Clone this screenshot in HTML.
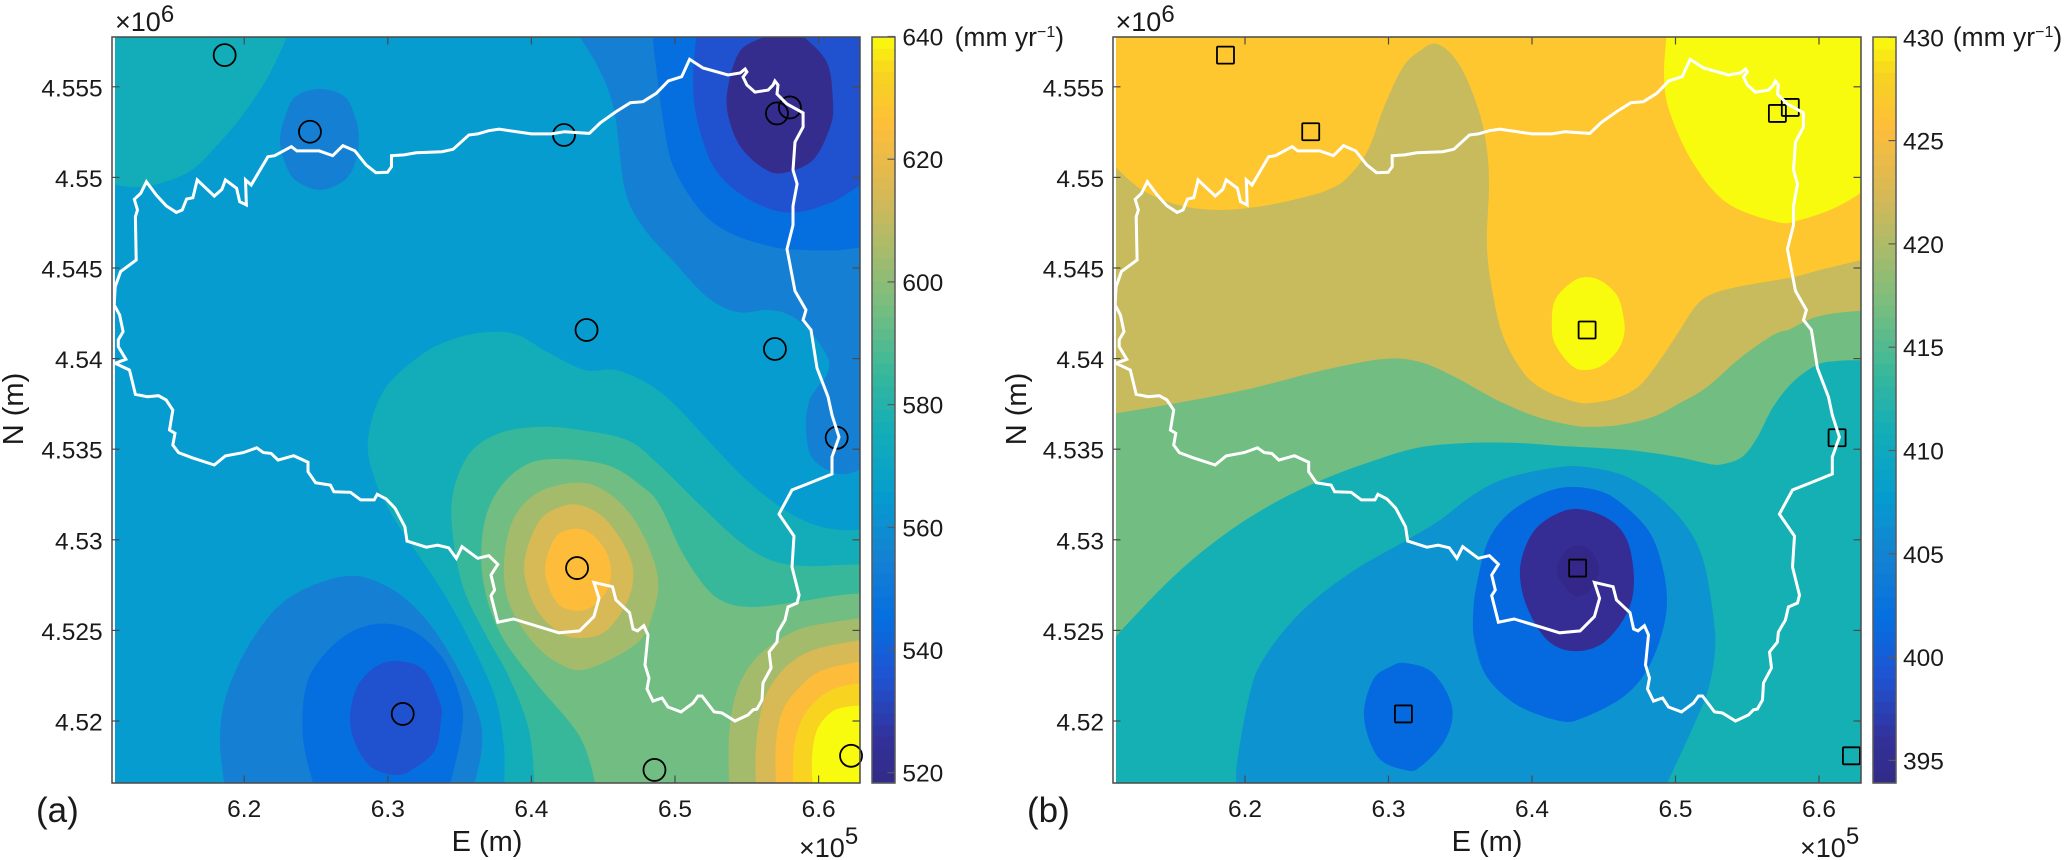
<!DOCTYPE html>
<html lang="en">
<head>
<meta charset="utf-8">
<title>Contour maps of annual values with station markers</title>
<style>
html,body{margin:0;padding:0;background:#fff;}
svg{display:block;}
text{font-family:"Liberation Sans",sans-serif;fill:#1a1a1a;}
</style>
</head>
<body>
<svg id="figure" xmlns="http://www.w3.org/2000/svg" width="2067" height="860" viewBox="0 0 2067 860">
  <rect x="0" y="0" width="2067" height="860" fill="#ffffff"/>
  <defs>
    <clipPath id="clip-a"><rect x="115" y="37" width="745" height="746"/></clipPath>
    <clipPath id="clip-b"><rect x="1116" y="37" width="745" height="746"/></clipPath>
  </defs>
  <g id="panel-a">
    <g id="contours-a" clip-path="url(#clip-a)"></g>
    <g id="markers-a"></g>
    <g id="boundary-a"></g>
    <g id="axes-a"></g>
    <g id="colorbar-a"></g>
    <text x="23" y="409" font-size="29" text-anchor="middle" transform="rotate(-90 23 409)">N (m)</text>
    <text x="487" y="851" font-size="29" text-anchor="middle">E (m)</text>
    <text x="36" y="822" font-size="35">(a)</text>
    <text x="115" y="31" font-size="27">×10<tspan dy="-9" font-size="24">6</tspan></text>
    <text x="799" y="857" font-size="27">×10<tspan dy="-13" font-size="24">5</tspan></text>
    <text x="954.6" y="46" font-size="26.5">(mm yr<tspan dy="-9" font-size="16">−1</tspan><tspan dy="9">)</tspan></text>
  </g>
  <g id="panel-b">
    <g id="contours-b" clip-path="url(#clip-b)"></g>
    <g id="markers-b"></g>
    <g id="boundary-b"></g>
    <g id="axes-b"></g>
    <g id="colorbar-b"></g>
    <text x="1026" y="409" font-size="29" text-anchor="middle" transform="rotate(-90 1026 409)">N (m)</text>
    <text x="1487" y="851" font-size="29" text-anchor="middle">E (m)</text>
    <text x="1027" y="822" font-size="35">(b)</text>
    <text x="1115.5" y="31" font-size="27">×10<tspan dy="-9" font-size="24">6</tspan></text>
    <text x="1800" y="857" font-size="27">×10<tspan dy="-13" font-size="24">5</tspan></text>
    <text x="1952.7" y="46" font-size="26.5">(mm yr<tspan dy="-9" font-size="16">−1</tspan><tspan dy="9">)</tspan></text>
  </g>
</svg>
<script>
// ---- Data: coordinates in km (easting, northing); axes print them as ×10^5 m and ×10^6 m ----
const eastTicks = [620, 630, 640, 650, 660];
const eastTickLabels = ['6.2', '6.3', '6.4', '6.5', '6.6'];
const northTicks = [4520, 4525, 4530, 4535, 4540, 4545, 4550, 4555];
const northTickLabels = ['4.52', '4.525', '4.53', '4.535', '4.54', '4.545', '4.55', '4.555'];
const colorbarTicksA = [520, 540, 560, 580, 600, 620, 640];
const colorbarTicksB = [395, 400, 405, 410, 415, 420, 425, 430];

const stationsA = [[618.64,4556.75],[624.58,4552.52],[642.27,4552.34],[643.84,4541.58],[657.1,4553.53],[658.0,4553.86],[656.96,4540.53],[661.26,4535.63],[643.18,4528.44],[631.04,4520.39],[648.57,4517.30],[662.26,4518.08]];
const stationsB = [[618.64,4556.75],[624.58,4552.52],[657.1,4553.53],[658.0,4553.86],[643.84,4541.58],[661.26,4535.63],[643.18,4528.44],[631.04,4520.39],[662.26,4518.08]];

const boundary = [[611.02,4539.74],[611.76,4539.96],[611.23,4540.66],[611.23,4541.03],[611.57,4541.49],[611.32,4542.41],[610.95,4542.96],[611.02,4543.97],[611.39,4544.80],[612.48,4545.44],[612.42,4547.83],[612.57,4548.20],[612.35,4548.79],[612.79,4549.12],[613.19,4549.76],[613.88,4549.03],[614.56,4548.44],[615.27,4548.07],[615.68,4548.20],[615.99,4548.81],[616.43,4548.88],[616.73,4549.86],[617.92,4548.97],[618.45,4549.34],[618.69,4549.86],[619.47,4549.40],[619.69,4548.66],[620.15,4548.48],[620.09,4549.86],[620.49,4549.58],[621.65,4551.14],[622.12,4551.20],[623.29,4551.70],[623.67,4551.46],[625.22,4551.46],[626.16,4551.20],[626.87,4551.75],[627.71,4551.47],[628.49,4550.69],[629.17,4550.26],[629.98,4550.28],[630.26,4550.59],[630.26,4551.20],[631.13,4551.24],[631.97,4551.36],[633.77,4551.42],[634.55,4551.55],[635.64,4552.34],[636.26,4552.40],[637.03,4552.58],[637.75,4552.66],[639.99,4552.40],[641.39,4552.40],[642.32,4552.52],[644.03,4552.43],[644.81,4553.02],[645.90,4553.63],[646.89,4554.12],[647.77,4554.18],[648.70,4554.64],[649.53,4555.32],[650.47,4555.56],[651.02,4556.52],[651.95,4556.04],[653.69,4555.65],[654.53,4555.76],[654.88,4555.98],[655.01,4555.82],[654.74,4555.54],[655.01,4555.10],[655.57,4554.71],[656.48,4554.82],[656.83,4555.10],[656.96,4555.32],[657.17,4555.10],[657.10,4554.60],[657.80,4554.05],[658.92,4553.56],[658.92,4552.78],[658.36,4551.95],[658.22,4550.41],[658.50,4549.64],[658.22,4548.42],[658.22,4547.37],[657.80,4546.05],[658.36,4543.73],[659.12,4542.68],[658.92,4542.13],[659.47,4541.58],[659.89,4539.48],[660.66,4537.88],[660.93,4536.89],[661.42,4535.67],[660.93,4534.57],[660.93,4533.63],[659.40,4533.14],[658.15,4532.75],[657.24,4531.42],[658.29,4530.21],[658.15,4528.50],[658.64,4526.95],[658.50,4526.51],[657.87,4526.29],[657.66,4525.57],[657.17,4524.91],[657.10,4524.36],[656.55,4523.81],[656.69,4522.93],[656.13,4522.10],[656.06,4521.16],[655.71,4520.66],[655.43,4520.61],[655.08,4520.33],[654.18,4520.00],[653.27,4520.44],[652.72,4520.50],[651.88,4521.38],[651.60,4521.38],[651.25,4520.99],[650.42,4520.50],[649.51,4520.77],[649.10,4521.27],[648.47,4521.10],[648.05,4521.77],[648.19,4522.37],[647.91,4523.09],[648.12,4524.75],[647.83,4525.26],[647.39,4524.97],[647.08,4525.08],[646.83,4525.98],[645.89,4526.68],[645.65,4527.41],[644.35,4527.65],[644.71,4526.77],[644.35,4525.76],[643.35,4524.97],[641.92,4524.87],[638.75,4525.63],[637.66,4525.45],[637.19,4526.92],[637.44,4527.23],[637.19,4528.06],[637.66,4528.65],[637.03,4529.12],[636.26,4528.98],[635.17,4529.62],[634.77,4528.98],[634.24,4529.56],[633.46,4529.70],[632.68,4529.59],[631.34,4529.93],[631.19,4530.72],[630.51,4531.74],[629.89,4532.25],[629.26,4532.51],[629.05,4532.20],[628.11,4532.20],[627.40,4532.62],[626.25,4532.65],[626.00,4533.02],[624.97,4533.15],[624.44,4533.76],[624.44,4534.28],[623.45,4534.64],[622.36,4534.40],[621.87,4534.77],[621.34,4534.81],[620.87,4535.08],[619.94,4534.81],[618.69,4534.63],[617.92,4534.13],[616.36,4534.53],[615.43,4534.81],[615.03,4535.23],[615.18,4535.88],[614.80,4536.06],[615.03,4537.16],[614.56,4537.72],[614.03,4537.95],[613.25,4537.90],[612.42,4538.03],[612.01,4539.37]];

// Panel (a) contour lines
const a575NorthWest = [[623.19,4558.14],[621.66,4555.54],[619.78,4553.33],[618.25,4551.90],[616.36,4550.41],[614.21,4549.69],[612.33,4549.47],[610.51,4549.64]];
const a555WestSpot = [[625.28,4554.88],[627.02,4554.44],[627.79,4553.17],[627.99,4552.07],[627.79,4550.96],[627.02,4549.86],[625.28,4549.31],[623.54,4549.86],[622.77,4550.96],[622.49,4552.07],[622.77,4553.17],[623.54,4554.44]];
const a555NorthEast = [[643.04,4558.14],[644.64,4556.09],[645.75,4553.72],[646.52,4549.31],[647.77,4547.26],[649.86,4545.39],[652.23,4543.40],[654.32,4542.57],[656.41,4542.68],[657.80,4542.46],[659.19,4541.69],[660.59,4540.14],[660.59,4539.15],[659.40,4537.77],[659.12,4536.12],[659.61,4534.46],[661.49,4533.63],[663.44,4534.02]];
const a545NorthEast = [[648.40,4558.14],[648.61,4556.54],[649.16,4553.22],[649.86,4550.63],[651.74,4548.20],[653.83,4546.93],[656.83,4546.16],[659.19,4545.99],[661.49,4545.99],[663.44,4546.22]];
const a535NorthEast = [[651.53,4558.14],[651.25,4555.43],[651.53,4553.22],[652.65,4550.63],[654.53,4549.09],[656.83,4548.20],[658.71,4548.09],[660.59,4548.53],[661.49,4548.86],[663.44,4549.86]];
const a525NorthEast = [[657.66,4558.58],[658.92,4557.80],[660.59,4556.32],[661.00,4554.11],[660.80,4552.78],[659.61,4550.96],[657.52,4550.24],[656.13,4550.52],[654.53,4551.73],[653.69,4553.45],[653.69,4554.99],[654.53,4556.98],[656.27,4557.80]];
const a555SouthWest = [[618.66,4516.19],[618.31,4519.12],[618.87,4521.71],[620.68,4524.64],[623.19,4526.84],[627.09,4528.00],[630.01,4527.40],[632.52,4525.74],[634.68,4523.20],[636.28,4520.44],[636.56,4518.57],[635.93,4516.19]];
const a545SouthWest = [[624.93,4516.19],[624.09,4519.12],[624.44,4522.26],[626.60,4524.47],[629.11,4525.35],[631.62,4525.02],[633.77,4523.53],[635.03,4521.32],[635.17,4519.50],[634.26,4516.19]];
const a535SouthWest = [[630.64,4523.31],[632.52,4522.81],[633.64,4520.99],[633.71,4520.06],[633.29,4518.40],[631.89,4517.41],[630.64,4517.02],[628.83,4517.46],[627.72,4518.79],[627.37,4520.22],[627.86,4521.88],[629.11,4522.98]];
const a575Center = [[638.09,4516.19],[638.09,4518.57],[637.47,4521.32],[635.93,4524.08],[634.05,4526.84],[631.89,4529.44],[630.36,4531.26],[629.11,4533.30],[628.62,4535.51],[629.74,4538.27],[632.52,4540.31],[635.03,4541.19],[637.19,4541.47],[639.07,4541.30],[641.23,4540.31],[643.73,4539.37],[645.89,4539.37],[648.05,4538.65],[649.86,4537.55],[652.23,4535.56],[654.53,4533.63],[656.83,4532.09],[659.19,4530.98],[661.49,4530.54],[663.44,4530.60]];
const a585Center = [[640.25,4516.19],[639.83,4519.50],[638.44,4522.43],[636.91,4524.64],[635.31,4527.23],[634.54,4530.15],[634.54,4532.58],[635.72,4534.79],[637.81,4535.89],[640.60,4536.23],[643.38,4536.06],[646.66,4535.51],[648.75,4534.24],[651.74,4531.92],[654.53,4529.88],[656.83,4528.83],[659.19,4528.55],[661.49,4528.61],[663.44,4528.66]];
const a595Center = [[644.57,4516.19],[643.38,4519.12],[640.32,4522.10],[637.81,4524.86],[636.63,4527.78],[636.63,4530.54],[637.54,4532.58],[639.35,4534.02],[641.57,4534.46],[645.27,4534.13],[647.77,4532.91],[648.96,4531.87],[650.56,4529.22],[652.23,4527.29],[653.62,4526.51],[655.43,4526.29],[658.01,4526.51],[661.49,4526.95],[663.44,4527.06]];
const a605Hill = [[642.90,4533.14],[644.78,4532.86],[646.66,4531.64],[648.05,4529.82],[648.82,4527.78],[648.47,4525.96],[647.35,4524.30],[643.87,4522.87],[641.85,4523.20],[639.97,4524.47],[638.44,4526.51],[638.09,4528.72],[638.72,4531.09],[640.39,4532.58]];
const a615Hill = [[643.38,4531.92],[644.99,4531.26],[646.38,4529.82],[647.08,4528.33],[646.73,4526.68],[645.27,4525.02],[643.59,4524.58],[641.99,4524.86],[640.39,4526.13],[639.55,4527.95],[639.69,4529.44],[640.60,4531.09],[641.99,4531.81]];
const a625Hill = [[642.90,4530.60],[644.08,4530.38],[645.13,4529.44],[645.54,4528.33],[645.27,4527.23],[644.08,4526.24],[642.69,4526.13],[641.64,4526.68],[640.95,4528.33],[641.64,4530.10]];
const a605SouthEast = [[653.76,4516.19],[653.76,4519.12],[654.18,4521.32],[655.01,4522.81],[656.41,4524.03],[658.50,4525.02],[660.59,4525.41],[663.44,4525.74]];
const a615SouthEast = [[655.64,4516.19],[655.64,4518.57],[656.13,4520.99],[657.10,4522.43],[658.50,4523.48],[660.31,4524.08],[663.44,4524.53]];
const a625SouthEast = [[657.03,4516.19],[657.03,4518.79],[657.52,4520.61],[658.71,4521.88],[660.31,4522.81],[663.44,4523.37]];
const a635SouthEast = [[658.22,4516.19],[658.29,4518.57],[658.92,4520.22],[660.10,4521.32],[661.49,4521.88],[663.44,4522.15]];
const a640SouthEast = [[659.61,4516.19],[659.54,4518.01],[659.89,4519.50],[660.80,4520.44],[661.84,4520.77],[663.44,4520.88]];

// Panel (b) contour lines
const b420Band = [[610.24,4551.07],[610.94,4550.58],[612.82,4549.31],[615.33,4548.48],[618.05,4548.20],[620.84,4548.37],[623.62,4548.81],[625.78,4549.31],[627.18,4550.02],[628.57,4551.51],[629.69,4553.89],[631.01,4556.09],[632.27,4557.03],[633.24,4557.39],[634.29,4556.87],[635.33,4555.65],[636.38,4553.45],[636.86,4551.51],[637.00,4549.53],[636.86,4546.27],[637.21,4543.84],[637.98,4541.25],[639.37,4539.26],[640.77,4538.30],[642.79,4537.66],[644.04,4537.55],[645.92,4537.83],[647.53,4538.54],[648.92,4539.92],[650.31,4541.58],[651.36,4542.85],[652.40,4543.51],[654.29,4543.95],[658.19,4544.50],[660.07,4544.89],[663.55,4545.55]];
const b415Band = [[610.24,4536.89],[614.49,4537.44],[620.00,4538.27],[625.51,4539.37],[629.69,4539.98],[632.20,4539.81],[634.50,4539.04],[636.38,4538.21],[637.98,4537.55],[640.35,4536.78],[642.65,4536.34],[644.04,4536.23],[646.13,4536.34],[648.43,4536.78],[650.31,4537.55],[652.20,4538.43],[654.50,4540.03],[656.80,4541.30],[657.98,4541.63],[659.58,4542.24],[661.26,4542.52],[663.55,4542.68]];
const b410Band = [[610.24,4524.03],[614.56,4527.62],[618.05,4529.99],[621.53,4531.81],[625.02,4533.19],[628.50,4534.24],[631.99,4535.07],[635.47,4535.34],[638.96,4535.34],[641.95,4535.18],[646.62,4534.96],[650.11,4534.57],[652.40,4534.18],[653.31,4534.18],[654.64,4534.57],[655.68,4535.62],[656.80,4537.33],[658.19,4538.71],[659.86,4539.65],[661.26,4539.87],[663.55,4539.92]];
const b405Basin = [[619.44,4516.19],[619.44,4517.68],[620.28,4521.32],[621.25,4523.37],[623.83,4525.96],[627.32,4528.17],[631.29,4529.99],[633.59,4531.09],[635.89,4532.47],[638.26,4533.41],[641.95,4534.02],[644.25,4533.96],[646.62,4533.47],[648.92,4532.31],[650.80,4530.71],[651.92,4528.89],[652.61,4525.96],[652.75,4523.92],[652.27,4521.71],[651.22,4519.67],[649.20,4516.19]];
const b400Center = [[641.95,4532.86],[644.74,4532.69],[646.62,4531.76],[648.22,4530.38],[649.06,4528.61],[649.41,4526.68],[649.06,4524.86],[648.01,4522.81],[646.34,4521.32],[643.55,4520.17],[641.95,4520.00],[638.96,4520.88],[636.86,4522.43],[636.03,4524.30],[635.89,4525.74],[636.17,4527.62],[637.07,4530.15],[638.96,4531.81]];
const b395Center = [[642.86,4531.70],[645.23,4531.20],[646.62,4529.99],[647.11,4527.78],[646.62,4525.96],[644.95,4524.30],[642.86,4523.86],[641.05,4524.47],[639.65,4526.29],[639.16,4528.17],[639.65,4529.82],[640.77,4530.98]];
const b394Center = [[643.21,4529.71],[644.18,4529.33],[644.67,4528.33],[644.04,4527.23],[643.00,4526.90],[642.09,4527.62],[641.74,4528.44],[642.30,4529.33]];
const b400South = [[631.15,4523.20],[633.10,4522.65],[634.43,4520.77],[633.94,4518.95],[632.20,4517.46],[631.15,4517.30],[629.27,4518.01],[628.29,4520.22],[628.92,4522.26],[630.10,4522.98]];
const b430NorthEast = [[649.41,4558.14],[649.20,4555.54],[649.62,4553.56],[651.22,4550.80],[653.59,4548.59],[657.07,4547.54],[658.68,4547.65],[661.26,4548.37],[663.55,4549.47]];
const b430Spot = [[643.83,4544.50],[644.95,4544.23],[645.99,4543.40],[646.41,4542.13],[646.41,4541.30],[645.99,4540.48],[644.95,4539.65],[643.83,4539.37],[642.79,4539.59],[641.60,4540.81],[641.39,4541.91],[641.60,4543.23],[642.79,4544.23]];

// value level, contour line, how the line closes
const contoursA = [
  [575, a575NorthWest, 'northwest'],
  [555, a555WestSpot, 'loop'],
  [555, a555NorthEast, 'northeast'],
  [545, a545NorthEast, 'northeast'],
  [535, a535NorthEast, 'northeast'],
  [525, a525NorthEast, 'loop'],
  [555, a555SouthWest, 'straight'],
  [545, a545SouthWest, 'straight'],
  [535, a535SouthWest, 'loop'],
  [575, a575Center, 'southeast'],
  [585, a585Center, 'southeast'],
  [595, a595Center, 'southeast'],
  [605, a605Hill, 'loop'],
  [615, a615Hill, 'loop'],
  [625, a625Hill, 'loop'],
  [605, a605SouthEast, 'southeast'],
  [615, a615SouthEast, 'southeast'],
  [625, a625SouthEast, 'southeast'],
  [635, a635SouthEast, 'southeast'],
  [640, a640SouthEast, 'southeast']
];
const contoursB = [
  [420, b420Band, 'south'],
  [415, b415Band, 'south'],
  [410, b410Band, 'south'],
  [405, b405Basin, 'straight'],
  [400, b400Center, 'loop'],
  [395, b395Center, 'loop'],
  [394, b394Center, 'loop'],
  [400, b400South, 'loop'],
  [430, b430NorthEast, 'northeast'],
  [430, b430Spot, 'loop']
];

// ---- Styles and scales ----
const levelColorsA = {525:'#352d8e',535:'#2052d0',545:'#066fe0',555:'#1580d3',565:'#069ccf',575:'#12adb8',585:'#38b89b',595:'#71bd82',605:'#a5bb6c',615:'#d7b956',625:'#fdbd3a',635:'#f8d320',640:'#f8fb0e'};
const levelColorsB = {394:'#33288a',395:'#352d94',400:'#056ae0',405:'#0d93d0',410:'#15b0b4',415:'#71bd82',420:'#c7bb5d',425:'#fec62f',430:'#f8fb0e'};
const mapStops = [[0,'#312a86'],[0.06,'#33319a'],[0.14,'#2052d0'],[0.22,'#066fe0'],[0.30,'#1580d3'],[0.385,'#069ccf'],[0.47,'#12adb8'],[0.55,'#38b89b'],[0.63,'#71bd82'],[0.71,'#a5bb6c'],[0.79,'#d7b956'],[0.88,'#fdbd3a'],[0.95,'#f8d320'],[1,'#f9fb0e']];
const colormapSteps = 64;
const beyond = {west:600, east:680, south:4510, north:4570};

function yOf(n){ return 721 - (n - 4520) * 18.12; }
function xOfA(e){ return 244.2 + (e - 620) * 14.36; }
function xOfB(e){ return 1245 + (e - 620) * 14.35; }
function cbarYA(v){ return 772.7 - (v - 520) * 6.135; }
function cbarYB(v){ return 760.4 - (v - 395) * 20.66; }

const SVGNS = 'http://www.w3.org/2000/svg';
function make(parent, tag, props){
  const el = document.createElementNS(SVGNS, tag);
  for (const k in props) el.setAttribute(k, props[k]);
  parent.appendChild(el);
  return el;
}
function hexToRgb(h){ return [parseInt(h.substr(1,2),16), parseInt(h.substr(3,2),16), parseInt(h.substr(5,2),16)]; }
function colormap(f){
  for (let i = 1; i < mapStops.length; i++) {
    if (f <= mapStops[i][0]) {
      const a = mapStops[i-1], b = mapStops[i];
      const t = (f - a[0]) / (b[0] - a[0]);
      const ca = hexToRgb(a[1]), cb = hexToRgb(b[1]);
      return 'rgb(' + ca.map((c, j) => Math.round(c + (cb[j] - c) * t)).join(',') + ')';
    }
  }
  return mapStops[mapStops.length - 1][1];
}
function fmt(v){ return v.toFixed(1); }
function curve(points, looped){
  const n = points.length;
  const at = i => looped ? points[(i + n) % n] : points[Math.max(0, Math.min(n - 1, i))];
  let d = 'M' + fmt(points[0][0]) + ' ' + fmt(points[0][1]);
  const last = looped ? n : n - 1;
  for (let i = 0; i < last; i++) {
    const p0 = at(i-1), p1 = at(i), p2 = at(i+1), p3 = at(i+2);
    d += 'C' + fmt(p1[0] + (p2[0]-p0[0])/6) + ' ' + fmt(p1[1] + (p2[1]-p0[1])/6) + ' ' +
         fmt(p2[0] - (p3[0]-p1[0])/6) + ' ' + fmt(p2[1] - (p3[1]-p1[1])/6) + ' ' +
         fmt(p2[0]) + ' ' + fmt(p2[1]);
  }
  return d;
}
function closingCorners(line, mode){
  const first = line[0], end = line[line.length - 1];
  if (mode === 'northeast') return [[beyond.east,end[1]],[beyond.east,beyond.north],[first[0],beyond.north]];
  if (mode === 'northwest') return [[beyond.west,end[1]],[beyond.west,beyond.north],[first[0],beyond.north]];
  if (mode === 'southeast') return [[beyond.east,end[1]],[beyond.east,beyond.south],[first[0],beyond.south]];
  if (mode === 'south') return [[beyond.east,end[1]],[beyond.east,beyond.south],[beyond.west,beyond.south],[beyond.west,first[1]]];
  return [];
}
function drawContours(host, contours, colors, baseLevel, xOf, prefix){
  const base = make(host, 'rect', {x:0, y:0, width:2067, height:860, fill:colors[baseLevel]});
  
  
  contours.forEach(function(c){
    const level = c[0], line = c[1], mode = c[2];
    const pts = line.map(p => [xOf(p[0]), yOf(p[1])]);
    let d = curve(pts, mode === 'loop');
    closingCorners(line, mode).forEach(function(q){
      d += 'L' + fmt(xOf(q[0])) + ' ' + fmt(yOf(q[1]));
    });
    d += 'Z';
    const band = make(host, 'path', {d:d, fill:colors[level]});
    
    
  });
}
function drawBoundary(host, xOf, prefix){
  const pts = boundary.map(p => fmt(xOf(p[0])) + ',' + fmt(yOf(p[1]))).join(' ');
  const line = make(host, 'polygon', {points:pts, fill:'none', stroke:'#ffffff', 'stroke-width':3, 'stroke-linejoin':'miter', 'stroke-miterlimit':3});
  
  
}
function drawAxes(host, xOf, left, right, labelRight, prefix){
  const top = 37, bottom = 783, tickLen = 7.5, stroke = '#4a4a4a';
  eastTicks.forEach(function(e, i){
    const x = xOf(e);
    const tb = make(host, 'line', {x1:x, x2:x, y1:bottom, y2:bottom - tickLen, stroke:stroke, 'stroke-width':1.2});
    
    
    const tt = make(host, 'line', {x1:x, x2:x, y1:top, y2:top + tickLen, stroke:stroke, 'stroke-width':1.2});
    
    
    const lab = make(host, 'text', {x:x, y:817, 'font-size':24.5, 'text-anchor':'middle'});
    lab.textContent = eastTickLabels[i];
    
    
  });
  northTicks.forEach(function(n, i){
    const y = yOf(n);
    const tl = make(host, 'line', {x1:left, x2:left + tickLen, y1:y, y2:y, stroke:stroke, 'stroke-width':1.2});
    
    
    const tr = make(host, 'line', {x1:right, x2:right - tickLen, y1:y, y2:y, stroke:stroke, 'stroke-width':1.2});
    
    
    const lab = make(host, 'text', {x:labelRight, y:y + 9.5, 'font-size':24.5, 'text-anchor':'end'});
    lab.textContent = northTickLabels[i];
    
    
  });
  const box = make(host, 'rect', {x:left, y:top, width:right - left, height:bottom - top, fill:'none', stroke:stroke, 'stroke-width':1.5});
  
  
}
function drawColorbar(host, ticks, cbarY, left, right, labelLeft, prefix){
  const top = 37, bottom = 783, stroke = '#5a5a5a';
  const vMax = ticks[ticks.length - 1];
  let vMin = vMax;
  const span = cbarY(ticks[0]) - cbarY(ticks[1]);
  const perUnit = span / (ticks[1] - ticks[0]);
  vMin = ticks[0] - (bottom - cbarY(ticks[0])) / perUnit;
  for (let i = 0; i < colormapSteps; i++) {
    const v0 = vMin + (vMax - vMin) * i / colormapSteps;
    const v1 = vMin + (vMax - vMin) * (i + 1) / colormapSteps;
    const cell = make(host, 'rect', {x:left, width:right - left, y:cbarY(v1), height:cbarY(v0) - cbarY(v1) + 0.6, fill:colormap((i + 0.5) / colormapSteps)});
    
    
  }
  ticks.forEach(function(v){
    const y = cbarY(v);
    const t = make(host, 'line', {x1:right, x2:right - 7.5, y1:y, y2:y, stroke:stroke, 'stroke-width':1.2});
    
    
    const lab = make(host, 'text', {x:labelLeft, y:y + 9, 'font-size':24.5});
    lab.textContent = String(v);
    
    
  });
  const box = make(host, 'rect', {x:left, y:top, width:right - left, height:bottom - top, fill:'none', stroke:stroke, 'stroke-width':1.5});
  
  
}

// ---- Panel (a) ----
drawContours(document.getElementById('contours-a'), contoursA, levelColorsA, 565, xOfA, 'a');
stationsA.forEach(function(s){
  const c = make(document.getElementById('markers-a'), 'circle', {cx:xOfA(s[0]), cy:yOf(s[1]), r:11, fill:'none', stroke:'#000000', 'stroke-width':1.8});
  
  
});
drawBoundary(document.getElementById('boundary-a'), xOfA, 'a');
drawAxes(document.getElementById('axes-a'), xOfA, 112, 860, 102.7, 'a');
drawColorbar(document.getElementById('colorbar-a'), colorbarTicksA, cbarYA, 872, 895, 902.4, 'a');

// ---- Panel (b) ----
drawContours(document.getElementById('contours-b'), contoursB, levelColorsB, 425, xOfB, 'b');
stationsB.forEach(function(s){
  const side = 17;
  const q = make(document.getElementById('markers-b'), 'rect', {x:xOfB(s[0]) - side / 2, y:yOf(s[1]) - side / 2, width:side, height:side, rx:1, fill:'none', stroke:'#000000', 'stroke-width':1.8});
  
  
});
drawBoundary(document.getElementById('boundary-b'), xOfB, 'b');
drawAxes(document.getElementById('axes-b'), xOfB, 1113, 1861, 1104, 'b');
drawColorbar(document.getElementById('colorbar-b'), colorbarTicksB, cbarYB, 1873, 1896, 1903, 'b');
</script>
</body>
</html>
